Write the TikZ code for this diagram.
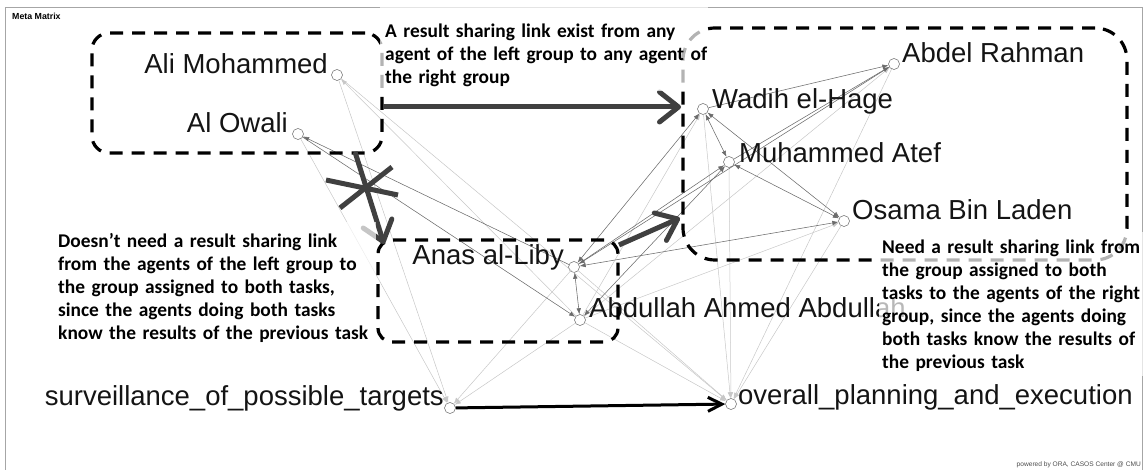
\documentclass[tikz,border=0pt]{standalone}
\usepackage{fontspec}
\setmainfont{Liberation Sans}
\newfontfamily\notefont{Carlito}
\usetikzlibrary{arrows.meta}

\begin{document}
\begin{tikzpicture}[x=1pt, y=-1pt,
  >={Latex[length=6pt,width=4.6pt]},
  agent/.style={circle, draw=black!60, fill=white, line width=0.5pt, minimum size=11pt, inner sep=0pt},
  who/.style={font=\fontsize{27.5}{30}\selectfont, inner sep=0pt, text=black!92},
  tie/.style={draw=black!58, line width=0.55pt},
  faint/.style={draw=black!22, line width=0.5pt},
  grp/.style={draw=black, line width=3.2pt, dash pattern=on 13pt off 9pt, inner sep=0pt},
  heavy/.style={draw=black!75, line width=5pt},
  heavytip/.style={-{Straight Barb[length=19pt, width=30pt, round]}},
  flow/.style={draw=black, line width=3pt, -{Straight Barb[length=14pt, width=14pt]}},
  veil/.style={fill=white, fill opacity=0.7},
  note/.style={font=\notefont\bfseries\fontsize{19.4}{23}\selectfont, inner sep=0pt,
               text width=340pt, align=left, anchor=base west},
]
\useasboundingbox (0,0) rectangle (1146,470);

% frame and captions
\draw[black!35, line width=0.8pt] (5,472) -- (5,7) -- (1142,7) -- (1142,472);
\node[font=\bfseries\fontsize{8.8}{10}\selectfont, anchor=base west, inner sep=0pt] (title) at (12,19.5) {Meta Matrix};
\node[font=\fontsize{6.6}{8}\selectfont, text=black!70, anchor=base east, inner sep=0pt] (credit) at (1141,466) {powered by ORA, CASOS Center @ CMU};

% agents
\node[agent] (ali)   at (337,75)  {};
\node[agent] (owali) at (298,134) {};
\node[agent] (wadih) at (703,109) {};
\node[agent] (abdel) at (894,64)  {};
\node[agent] (atef)  at (729,162) {};
\node[agent] (osama) at (844,221) {};
\node[agent] (anas)  at (574,267) {};
\node[agent] (abdu)  at (580,320) {};
% tasks
\node[agent] (surv)  at (450,408) {};
\node[agent] (plan)  at (731,404) {};

% links
\foreach \a/\b in {ali/surv, owali/surv, anas/surv, abdu/surv, ali/plan, anas/plan,
                   abdu/plan, wadih/plan, atef/plan, abdel/plan, osama/plan,
                   abdu/ali, abdu/osama, abdu/abdel, abdu/wadih}
  \draw[faint, ->] (\a) -- (\b);
\foreach \a/\b in {owali/abdu, anas/owali, anas/atef, abdel/anas, wadih/abdel, atef/abdel}
  \draw[tie, ->] (\a) -- (\b);
\foreach \a/\b in {anas/abdu, anas/wadih, abdu/atef, anas/osama, wadih/atef, wadih/osama, atef/osama}
  \draw[tie, <->] (\a) -- (\b);

% names
\node[who, anchor=base east] (ali-t)   at ([xshift=-9pt,yshift=1pt]ali.center)   {Ali Mohammed};
\node[who, anchor=base east] (owali-t) at ([xshift=-10pt,yshift=1pt]owali.center) {Al Owali};
\node[who, anchor=base west] (wadih-t) at ([xshift=9pt]wadih.center)              {Wadih el-Hage};
\node[who, anchor=base west] (abdel-t) at ([xshift=8pt,yshift=1pt]abdel.center)   {Abdel Rahman};
\node[who, anchor=base west] (atef-t)  at ([xshift=10pt,yshift=-1pt]atef.center)  {Muhammed Atef};
\node[who, anchor=base west] (osama-t) at ([xshift=8pt,yshift=1pt]osama.center)   {Osama Bin Laden};
\node[who, anchor=base east] (anas-t)  at ([xshift=-10pt,yshift=2pt]anas.center)  {Anas al-Liby};
\node[who, anchor=base west] (abdu-t)  at ([xshift=9pt,yshift=2pt]abdu.center)    {Abdullah Ahmed Abdullah};
\node[who, anchor=base east] (surv-t)  at ([xshift=-6pt,yshift=3pt]surv.center)   {surveillance\_of\_possible\_targets};
\node[who, anchor=base west] (plan-t)  at ([xshift=7pt]plan.center)               {overall\_planning\_and\_execution};

% groups
\node[grp, rounded corners=17pt, minimum width=290pt, minimum height=120pt] (leftgrp)  at (237,93)  {};
\node[grp, rounded corners=14pt, minimum width=240pt, minimum height=102pt] (midgrp)   at (498,291) {};
\node[grp, rounded corners=32pt, minimum width=444pt, minimum height=232pt] (rightgrp) at (905,144) {};

% result sharing between groups
\coordinate (share-from) at (383,107);
\coordinate (share-to)   at (681,107);
\draw[heavy, heavytip] (share-from) -- (share-to);
\coordinate (skip-from) at (355,152);
\coordinate (skip-to)   at (384,244);
\draw[heavy, heavytip] (skip-from) -- (skip-to);
\draw[heavy] (326,180) -- (398,195);
\draw[heavy] (340,208) -- (392,167);
\coordinate (pass-from) at (619,245);
\coordinate (pass-to)   at (680,218);
\draw[heavy, heavytip] (pass-from) -- (pass-to);

% task order
\draw[flow] (surv) -- (plan);

% notes on translucent backgrounds
\fill[veil] (380,4) rectangle (708,91);
\fill[veil] (50,222) rectangle (376,346);
\fill[veil] (879,232) rectangle (1143,376);

\node[note] (share-note) at (385,37.5) {A result sharing link exist from any\\agent of the left group to any agent of\\the right group};
\node[note] (skip-note) at (58,247.3) {Doesn’t need a result sharing link\\from the agents of the left group to\\the group assigned to both tasks,\\since the agents doing both tasks\\know the results of the previous task};
\node[note] (pass-note) at (882,253.3) {Need a result sharing link from\\the group assigned to both\\tasks to the agents of the right\\group, since the agents doing\\both tasks know the results of\\the previous task};
\end{tikzpicture}
\end{document}
